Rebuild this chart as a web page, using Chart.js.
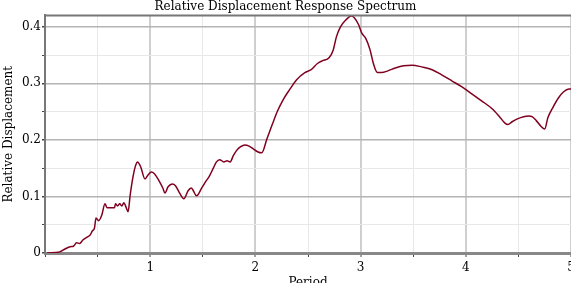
<!DOCTYPE html>
<html>
<head>
<meta charset="utf-8">
<script src="https://cdn.jsdelivr.net/npm/chart.js@4/dist/chart.umd.min.js"></script>
<style>
  html, body { margin: 0; padding: 0; background: #fff; }
  #wrap { width: 571px; height: 283px; }
</style>
</head>
<body>
<div id="wrap"><canvas id="spectrum"></canvas></div>
<script>
// values
var periods = [0.02, 0.14, 0.19, 0.24, 0.27, 0.30, 0.33, 0.36, 0.40, 0.43, 0.45, 0.47, 0.485, 0.51, 0.54, 0.57,
    0.59, 0.62, 0.66, 0.67, 0.69, 0.71, 0.73, 0.75, 0.77, 0.79, 0.81, 0.84, 0.86, 0.88, 0.91, 0.95, 0.98,
    1.01, 1.04, 1.08, 1.12, 1.14, 1.17, 1.21, 1.24, 1.28, 1.32, 1.36, 1.39, 1.41, 1.44, 1.49, 1.53, 1.56,
    1.60, 1.63, 1.66, 1.70, 1.73, 1.76, 1.79, 1.82, 1.86, 1.90, 1.94, 1.98, 2.02, 2.06, 2.11, 2.16, 2.21,
    2.27, 2.33, 2.39, 2.47, 2.53, 2.59, 2.64, 2.70, 2.74, 2.77, 2.81, 2.86, 2.91, 2.94, 2.98, 3.01, 3.05,
    3.09, 3.12, 3.16, 3.20, 3.26, 3.33, 3.41, 3.49, 3.58, 3.68, 3.77, 3.87, 3.96, 4.06, 4.15, 4.25, 4.32,
    4.37, 4.40, 4.44, 4.49, 4.55, 4.60, 4.63, 4.67, 4.71, 4.75, 4.78, 4.83, 4.88, 4.93, 4.98, 5.0];
var displacement = [0, 0.002, 0.007, 0.011, 0.012, 0.018, 0.017, 0.023, 0.028, 0.032, 0.039, 0.044, 0.062, 0.057, 0.067, 0.087,
    0.080, 0.080, 0.080, 0.087, 0.083, 0.087, 0.083, 0.089, 0.081, 0.073, 0.103, 0.138, 0.154, 0.161, 0.152, 0.131, 0.138,
    0.143, 0.140, 0.129, 0.115, 0.106, 0.117, 0.122, 0.119, 0.106, 0.096, 0.110, 0.115, 0.110, 0.101, 0.115, 0.127, 0.135,
    0.150, 0.161, 0.165, 0.161, 0.163, 0.161, 0.172, 0.181, 0.188, 0.191, 0.189, 0.184, 0.179, 0.177, 0.202, 0.227, 0.251,
    0.273, 0.290, 0.306, 0.319, 0.324, 0.335, 0.340, 0.345, 0.359, 0.382, 0.400, 0.412, 0.419, 0.416, 0.404, 0.389, 0.379,
    0.359, 0.336, 0.319, 0.319, 0.322, 0.327, 0.331, 0.332, 0.329, 0.324, 0.315, 0.304, 0.294, 0.281, 0.269, 0.255, 0.241,
    0.230, 0.227, 0.232, 0.237, 0.241, 0.242, 0.241, 0.234, 0.225, 0.219, 0.239, 0.258, 0.274, 0.285, 0.290, 0.290];
var xMajorTicks = [1, 2, 3, 4, 5];
var yMajorTicks = [0, 0.1, 0.2, 0.3, 0.4];

var serif = "'DejaVu Serif', serif";

function isMajor(list, v) {
    return list.some(function(t) { return Math.abs(t - v) < 1e-6; });
}

//the top frame line of the plot
var topBorder = {
    id: "topBorder",
    afterDraw: function(chart) {
        var a = chart.chartArea, ctx = chart.ctx;
        ctx.save();
        ctx.strokeStyle = "#777";
        ctx.lineWidth = 2;
        ctx.beginPath();
        ctx.moveTo(a.left, a.top);
        ctx.lineTo(chart.width, a.top);
        ctx.stroke();
        ctx.restore();
    }
};

var points = periods.map(function(p, i) { return {x: p, y: displacement[i]}; });

new Chart(document.getElementById("spectrum").getContext("2d"), {
    type: "line",
    data: {
        datasets: [{
            data: points,
            borderColor: "#800020",
            borderWidth: 1.5,
            pointRadius: 0,
            cubicInterpolationMode: "monotone",
            fill: false
        }]
    },
    options: {
        responsive: true,
        maintainAspectRatio: false,
        animation: false,
        layout: { padding: 0 },
        plugins: {
            legend: { display: false },
            tooltip: { enabled: false },
            title: {
                display: true,
                text: "Relative Displacement Response Spectrum",
                color: "#000",
                font: { family: serif, size: 12, weight: "normal" },
                padding: { top: 0, bottom: 1 }
            }
        },
        scales: {
            x: {
                type: "linear",
                min: 0,
                max: 5,
                afterFit: function(s) { s.height = 30; s.paddingLeft = 0; s.paddingRight = 0; },
                ticks: {
                    stepSize: 0.5,
                    autoSkip: false,
                    maxRotation: 0,
                    padding: 4,
                    color: "#000",
                    font: { family: serif, size: 12 },
                    callback: function(v) { return isMajor(xMajorTicks, v) ? String(v) : ""; }
                },
                grid: {
                    color: function(c) { return isMajor(xMajorTicks, c.tick.value) ? "#cfcfcf" : "#e8e8e8"; },
                    lineWidth: function(c) { return isMajor(xMajorTicks, c.tick.value) ? 2 : 1; },
                    tickColor: "#444",
                    tickWidth: 1,
                    tickLength: 4
                },
                border: { color: "#888", width: 3 },
                title: {
                    display: true,
                    text: "Period",
                    color: "#000",
                    font: { family: serif, size: 12 },
                    padding: { top: -7, bottom: -7 }
                }
            },
            y: {
                min: 0,
                max: 0.42,
                afterFit: function(s) { s.width = 45; s.paddingTop = 0; s.paddingBottom = 0; },
                ticks: {
                    stepSize: 0.05,
                    includeBounds: false,
                    autoSkip: false,
                    padding: 1,
                    color: "#000",
                    font: { family: serif, size: 12 },
                    callback: function(v) { return isMajor(yMajorTicks, v) ? String(Math.round(v * 10) / 10) : ""; }
                },
                grid: {
                    color: function(c) {
                        var v = c.tick.value;
                        if (isMajor(yMajorTicks, v)) return "#b4b4b4";
                        return Math.abs(v * 20 - Math.round(v * 20)) < 1e-6 ? "#e8e8e8" : "rgba(0,0,0,0)";
                    },
                    lineWidth: function(c) { return isMajor(yMajorTicks, c.tick.value) ? 1.5 : 1; },
                    tickColor: "#444",
                    tickLength: 3
                },
                border: { color: "#777", width: 2 },
                title: {
                    display: true,
                    text: "Relative Displacement",
                    color: "#000",
                    font: { family: serif, size: 12 },
                    padding: { top: 2, bottom: 0 }
                }
            }
        }
    },
    plugins: [topBorder]
});
</script>
</body>
</html>
